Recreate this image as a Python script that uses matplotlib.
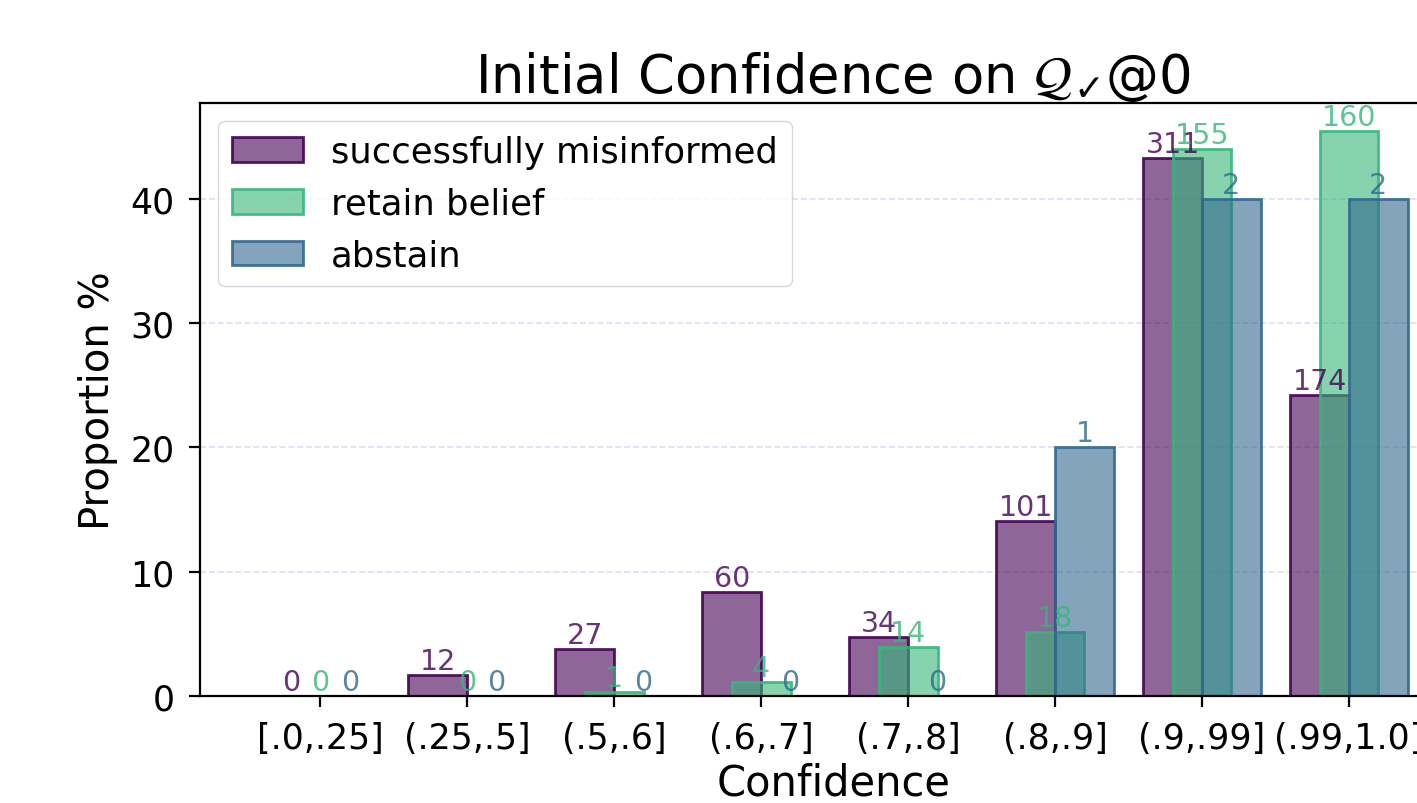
import numpy as np
import matplotlib.pyplot as plt
from matplotlib.colors import to_rgba

# bins and counts (labels above the bars)
bins = ['[.0,.25]', '(.25,.5]', '(.5,.6]', '(.6,.7]', '(.7,.8]', '(.8,.9]', '(.9,.99]', '(.99,1.0]']
cnt_misinformed = np.array([0, 12, 27, 60, 34, 101, 311, 174])
cnt_retain = np.array([0, 0, 1, 4, 14, 18, 155, 160])
cnt_abstain = np.array([0, 0, 0, 0, 0, 1, 2, 2])

labels = ['successfully misinformed', 'retain belief', 'abstain']
colors = ['#440154', '#35b779', '#31688e']

counts = [cnt_misinformed, cnt_retain, cnt_abstain]
props = [c / c.sum() * 100 for c in counts]

fig = plt.figure(figsize=(14.17, 8.04), dpi=100)
ax = fig.add_axes([0.141, 0.1331, 0.894, 0.7375])

x = np.arange(len(bins))
width = 0.4
offsets = [-0.2, 0.0, 0.2]

for cnt, prop, lab, col, off in zip(counts, props, labels, colors, offsets):
    ax.bar(x + off, prop, width, facecolor=to_rgba(col, 0.6), edgecolor=to_rgba(col, 0.9),
           linewidth=2, label=lab)
    for xi, p, c in zip(x + off, prop, cnt):
        ax.text(xi, p, str(c), ha='center', va='bottom', fontsize=20.5,
                color=to_rgba(col, 0.8))

ax.set_xlim(-0.82, 7.8)
ax.set_ylim(0, 47.7)
ax.set_xticks(x)
ax.set_xticklabels(bins)
ax.set_yticks([0, 10, 20, 30, 40])
ax.tick_params(labelsize=25, length=8, width=1.6, pad=10)
for s in ax.spines.values():
    s.set_linewidth(1.6)
ax.yaxis.grid(True, linestyle='--', color='#b8c0e8', alpha=0.5, linewidth=1.2)
ax.set_axisbelow(True)

ax.set_xlabel('Confidence', fontsize=30, labelpad=5)
ax.set_ylabel('Proportion %', fontsize=29, labelpad=9)
ax.set_title(r'Initial Confidence on $\mathcal{Q}_{\checkmark}$@0', fontsize=38)

ax.legend(loc='upper left', fontsize=25.5)

plt.savefig('out.png', dpi=100)
